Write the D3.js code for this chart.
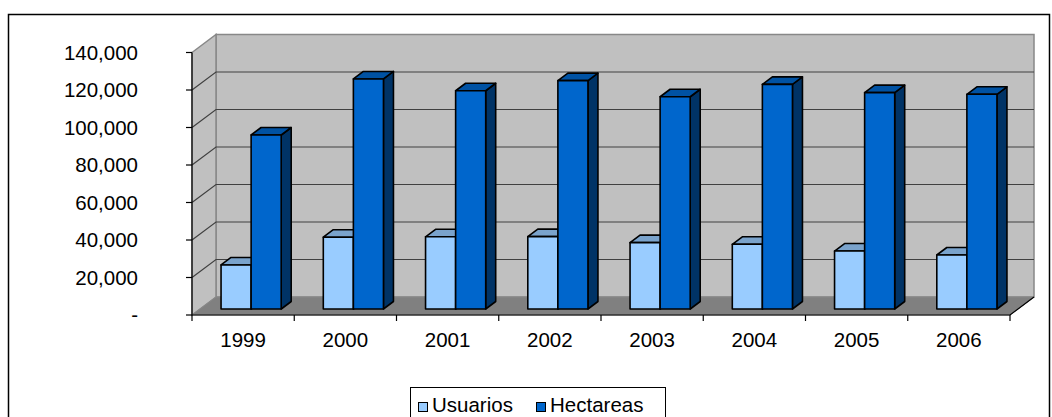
<!DOCTYPE html>
<html lang="en">
<head>
<meta charset="utf-8">
<title>Usuarios y Hectareas</title>
<script src="https://d3js.org/d3.v7.min.js"></script>
<style>
    body { margin: 0; background: #fff; }
    svg { display: block; }
    text { font-family: "Liberation Sans", Arial, sans-serif; font-size: 20.5px; fill: #000; }
</style>
</head>
<body>
<div class="chart"></div>
<script>
// data
var years = ["1999", "2000", "2001", "2002", "2003", "2004", "2005", "2006"];
var seriesNames = ["Usuarios", "Hectareas"];
var usuarios = [23500, 38300, 38500, 38600, 35400, 34500, 30900, 28800];
var hectareas = [92800, 122700, 116400, 121800, 113200, 119800, 115400, 114500];
var yTicks = [0, 20000, 40000, 60000, 80000, 100000, 120000, 140000];

var width = 1052, height = 417;
var svg = d3.select(".chart").append("svg")
    .attr("width", width)
    .attr("height", height);

// 3d depth offsets (full depth of the plot box)
var depthX = 24, depthY = 18;
function px(x, z) { return x + depthX * z; }
function py(y, z) { return y - depthY * z; }

var x0 = 192, x1 = 1010, yBottom = 315, yTop = 52.5;

var xScale = d3.scaleBand().domain(years).range([x0, x1]);
var xSeries = d3.scaleBand().domain(seriesNames)
    .range([0, xScale.bandwidth()]).paddingInner(0).paddingOuter(0.7);
var yScale = d3.scaleLinear().domain([0, 140000]).range([yBottom, yTop]);

var colors = {
    Usuarios: { front: "#99ccff", top: "#7aa3cc", side: "#5c7a99" },
    Hectareas: { front: "#0066cc", top: "#0052a3", side: "#003366" }
};

// outer border
svg.append("rect")
    .attr("x", 8.5).attr("y", 14.5)
    .attr("width", 1041).attr("height", 430)
    .attr("fill", "none").attr("stroke", "#000").attr("stroke-width", 1.5);

var line = d3.line();

// back wall
svg.append("rect")
    .attr("x", px(x0, 1)).attr("y", py(yTop, 1))
    .attr("width", x1 - x0).attr("height", yBottom - yTop)
    .attr("fill", "#c0c0c0").attr("stroke", "#888").attr("stroke-width", 1.5);

// side wall
svg.append("path")
    .attr("d", line([[x0, yTop], [px(x0, 1), py(yTop, 1)], [px(x0, 1), py(yBottom, 1)], [x0, yBottom]]) + "Z")
    .attr("fill", "#c0c0c0").attr("stroke", "#888").attr("stroke-width", 1.5);

// gridlines on back and side walls
var grid = svg.append("g").attr("stroke", "#404040").attr("stroke-width", 1.2).attr("fill", "none");
yTicks.slice(1, -1).forEach(function(t) {
    var y = yScale(t);
    grid.append("path").attr("d", line([[x0, y], [px(x0, 1), py(y, 1)], [px(x1, 1), py(y, 1)]]));
});

// floor
svg.append("path")
    .attr("d", line([[x0, yBottom], [x1, yBottom], [px(x1, 1), py(yBottom, 1)], [px(x0, 1), py(yBottom, 1)]]) + "Z")
    .attr("fill", "#808080").attr("stroke", "#888").attr("stroke-width", 1);

// bars
var zFront = 1 / 3, zBack = zFront + 10 / depthX;
var barW = xSeries.bandwidth();
var bars = svg.append("g").attr("stroke", "#000").attr("stroke-width", 1.6).attr("stroke-linejoin", "round");

years.forEach(function(yr, i) {
    [usuarios[i], hectareas[i]].forEach(function(v, s) {
        var name = seriesNames[s];
        var c = colors[name];
        var xl = px(xScale(yr) + xSeries(name), zFront), xr = xl + barW;
        var yt = py(yScale(v), zFront), yb = py(yBottom, zFront);
        var dx = depthX * (zBack - zFront), dy = depthY * (zBack - zFront);
        // side
        bars.append("path")
            .attr("d", line([[xr, yb], [xr, yt], [xr + dx, yt - dy], [xr + dx, yb - dy]]) + "Z")
            .attr("fill", c.side);
        // top
        bars.append("path")
            .attr("d", line([[xl, yt], [xl + dx, yt - dy], [xr + dx, yt - dy], [xr, yt]]) + "Z")
            .attr("fill", c.top);
        // front
        bars.append("rect")
            .attr("x", xl).attr("y", yt)
            .attr("width", barW).attr("height", yb - yt)
            .attr("fill", c.front);
    });
});

// axes lines
var axisG = svg.append("g").attr("stroke", "#000").attr("stroke-width", 1.2).attr("fill", "none");
axisG.append("path").attr("d", line([[x0, yTop], [x0, yBottom]]));
axisG.append("path").attr("d", line([[x0, yBottom], [x1, yBottom], [px(x1, 1), py(yBottom, 1)]]));

// y ticks and labels
yTicks.forEach(function(t) {
    var y = yScale(t);
    axisG.append("path").attr("d", line([[x0 - 6, y], [x0, y]]));
    svg.append("text")
        .attr("x", 138).attr("y", y)
        .attr("dy", "0.36em")
        .attr("text-anchor", "end")
        .text(t === 0 ? "-" : d3.format(",")(t));
});

// x ticks and labels
years.forEach(function(yr) {
    var xt = xScale(yr);
    axisG.append("path").attr("d", line([[xt, yBottom], [xt, yBottom + 6]]));
    svg.append("text")
        .attr("x", xt + xScale.bandwidth() / 2).attr("y", 347)
        .attr("text-anchor", "middle")
        .text(yr);
});
axisG.append("path").attr("d", line([[x1, yBottom], [x1, yBottom + 6]]));

// legend
var legend = svg.append("g");
legend.append("rect")
    .attr("x", 410.5).attr("y", 387.5).attr("width", 255).attr("height", 45)
    .attr("fill", "#fff").attr("stroke", "#000").attr("stroke-width", 1);
var legendX = [418, 536];
seriesNames.forEach(function(name, i) {
    legend.append("rect")
        .attr("x", legendX[i] + 0.5).attr("y", 402.5).attr("width", 9).attr("height", 9)
        .attr("fill", colors[name].front).attr("stroke", "#000").attr("stroke-width", 1);
    legend.append("text")
        .attr("x", legendX[i] + 14).attr("y", 412)
        .text(name);
});
</script>
</body>
</html>
